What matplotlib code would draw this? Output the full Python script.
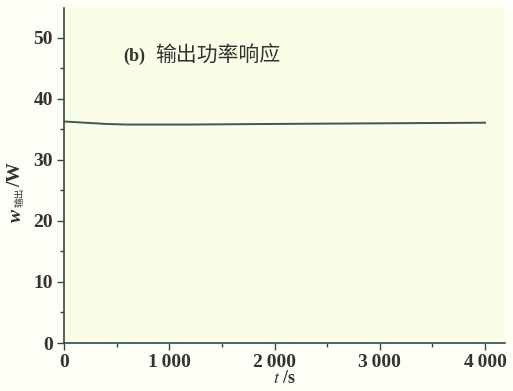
import matplotlib
matplotlib.use("Agg")
import matplotlib.pyplot as plt
from matplotlib.ticker import MultipleLocator

# 数据
t = [0, 100, 200, 400, 600, 800, 1200, 1600, 2000, 2500, 3000, 3500, 4000]
p_out = [36.3, 36.2, 36.1, 35.9, 35.8, 35.8, 35.8, 35.85, 35.9, 35.95, 36.0, 36.05, 36.1]

x_ticks = [0, 1000, 2000, 3000, 4000]
x_labels = ["0", "1\u2009000", "2\u2009000", "3\u2009000", "4\u2009000"]
y_ticks = [0, 10, 20, 30, 40, 50]

bg = "#fbfde6"
ink = "#2f4a4c"
txt = "#333333"
serif = ["Liberation Serif", "DejaVu Serif"]
cjk = ["Noto Sans CJK SC", "DejaVu Sans"]

fig = plt.figure(figsize=(5.13, 3.91), dpi=100, facecolor="#fdfef6")
ax = fig.add_axes([64 / 513, 48 / 391, 441 / 513, 335 / 391])
ax.set_facecolor(bg)

ax.plot(t, p_out, color="#3a5859", linewidth=1.4)

ax.set_xlim(0, 4190)
ax.set_ylim(0, 54.9)
ax.set_xticks(x_ticks)
ax.set_xticklabels(x_labels)
ax.set_yticks(y_ticks)
ax.xaxis.set_minor_locator(MultipleLocator(500))
ax.yaxis.set_minor_locator(MultipleLocator(5))

for s in ["top", "right"]:
    ax.spines[s].set_visible(False)
for s in ["left", "bottom"]:
    ax.spines[s].set_color(ink)
    ax.spines[s].set_linewidth(1.2)

ax.tick_params(which="both", direction="out", color=ink, width=1.0)
ax.tick_params(which="major", length=5, pad=3)
ax.tick_params(which="minor", length=3)
for lab in ax.get_xticklabels() + ax.get_yticklabels():
    lab.set_family(serif)
    lab.set_fontweight("bold")
    lab.set_fontsize(14)
    lab.set_color(txt)

ax.set_xlabel(r"$t$ /s", fontsize=13, fontfamily="Liberation Serif",
              fontweight="bold", color=txt, labelpad=-1)
ax.xaxis.label.set_math_fontfamily("stix")

# 面板标题
fig.text(123 / 513, 1 - 56 / 391, "(b)", fontsize=13, fontfamily=serif,
         fontweight="bold", color=txt, va="center")
fig.text(155 / 513, 1 - 56 / 391, "输出功率响应", fontsize=15,
         fontfamily=cjk, fontweight="medium", color=txt, va="center")

# y 轴标签：w_输出/W
fig.text(16 / 513, 1 - 215 / 391, "w", rotation=90, fontsize=14,
         fontstyle="italic", fontfamily=serif, fontweight="bold",
         color=txt, ha="center", va="center")
fig.text(20 / 513, 1 - 197 / 391, "输出", rotation=90, fontsize=7,
         fontfamily=cjk, color=txt, ha="center", va="center")
fig.text(16 / 513, 1 - 175 / 391, "/W", rotation=90, fontsize=14,
         fontfamily=serif, fontweight="bold", color=txt,
         ha="center", va="center")

fig.savefig("out.png", dpi=100, facecolor=fig.get_facecolor())
